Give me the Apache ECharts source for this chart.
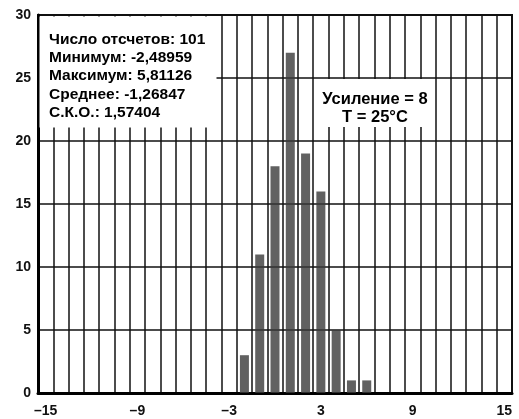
<!DOCTYPE html>
<html>
<head>
<meta charset="utf-8">
<script src="https://cdn.jsdelivr.net/npm/echarts@6/dist/echarts.min.js"></script>
<style>
html,body{margin:0;padding:0;background:#fff;}
#chart{width:519px;height:419px;}
</style>
</head>
<body>
<div id="chart"></div>
<script>
// Bin centres (x axis categories)
var categories = [-15,-14,-13,-12,-11,-10,-9,-8,-7,-6,-5,-4,-3,-2,-1,0,1,2,3,4,5,6,7,8,9,10,11,12,13,14,15];
// Counts per bin
var counts =     [0,0,0,0,0,0,0,0,0,0,0,0,0,3,11,18,27,19,16,5,1,1,0,0,0,0,0,0,0,0,0];
// Tick labels shown on the x axis
var xTickLabels = [-15,-9,-3,3,9,15];
// Annotation text
var statsLines = ['Число отсчетов: 101','Минимум: -2,48959','Максимум: 5,81126','Среднее: -1,26847','С.К.О.: 1,57404'];
var condLines = ['Усиление = 8','T = 25°C'];

var chart = echarts.init(document.getElementById('chart'), null, {renderer:'canvas'});
var font = 'Liberation Sans, Arial, sans-serif';

var graphics = [
  {type:'rect', shape:{x:39.5, y:16.5, width:177, height:111}, style:{fill:'#fff'}, z:50},
  {type:'rect', shape:{x:321, y:79, width:107, height:48}, style:{fill:'#fff'}, z:50}
];
statsLines.forEach(function(t,i){
  graphics.push({type:'text', x:49, y:39.5 + i*18.3, z:60,
    style:{text:t, font:'bold 15.5px ' + font, fill:'#000', textVerticalAlign:'middle', textAlign:'left'}});
});
condLines.forEach(function(t,i){
  graphics.push({type:'text', x:375, y:99 + i*18.5, z:60,
    style:{text:t, font:'bold 16.5px ' + font, fill:'#000', textVerticalAlign:'middle', textAlign:'center'}});
});

chart.setOption({
  animation:false,
  backgroundColor:'#fff',
  grid:{left:38, right:7, top:15, bottom:26, show:true, borderColor:'#111', borderWidth:2},
  xAxis:{
    type:'category',
    data:categories,
    boundaryGap:true,
    axisLine:{show:true, lineStyle:{color:'#000', width:3}},
    axisTick:{show:false},
    axisLabel:{
      interval:0,
      margin:11,
      fontFamily:font, fontWeight:'bold', fontSize:14, color:'#111',
      formatter:function(v){
        var n = Number(v);
        if (xTickLabels.indexOf(n) < 0) return '';
        return n < 0 ? '–' + Math.abs(n) : String(n);
      }
    },
    splitLine:{show:true, interval:0, lineStyle:{color:'#111', width:1.5}}
  },
  yAxis:{
    type:'value', min:0, max:30, interval:5,
    axisLine:{show:true, lineStyle:{color:'#000', width:3}},
    axisTick:{show:false},
    axisLabel:{margin:7, fontFamily:font, fontWeight:'bold', fontSize:14, color:'#111'},
    splitLine:{show:true, lineStyle:{color:'#111', width:1.5}}
  },
  series:[{
    type:'bar',
    data:counts,
    barWidth:9,
    itemStyle:{color:'#3a3a3a', opacity:0.8}
  }],
  graphic:graphics
});
</script>
</body>
</html>
